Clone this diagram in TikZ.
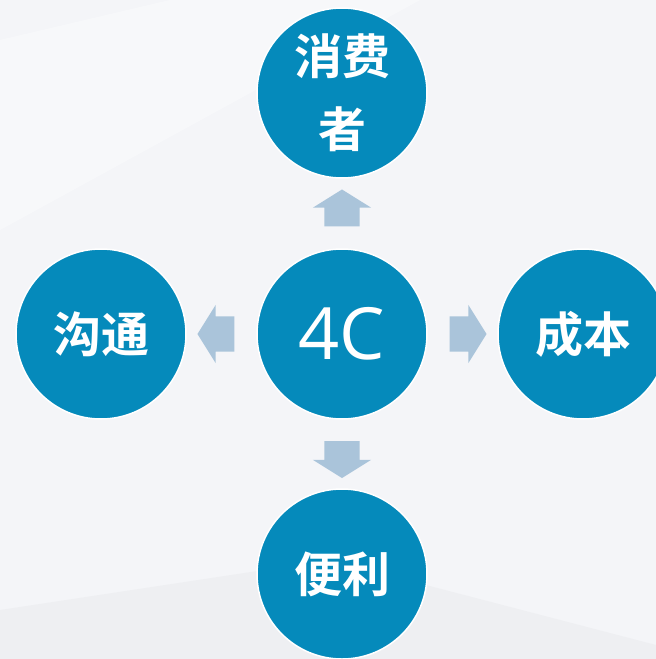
\documentclass[tikz,border=0pt]{standalone}
\usepackage{fontspec}
\newfontfamily\cjk{Noto Sans CJK SC Bold}
\newfontfamily\latinfont{Open Sans}
\usepackage{xcolor}
\usetikzlibrary{shapes.arrows,calc}
\definecolor{ballblue}{RGB}{5,138,187}
\definecolor{arrowblue}{RGB}{170,196,218}
\definecolor{bggray}{RGB}{244,245,248}
\definecolor{bgdark}{RGB}{238,239,242}

\begin{document}
\begin{tikzpicture}[x = 1pt, y = -1pt,
    ball/.style = {circle, fill = ballblue, draw = white, line width = 1.5pt, minimum size = 170pt, inner sep = 0pt, text = white, align = center},
    cjklabel/.style = {font = \cjk\fontsize{48}{73}\selectfont},
    blockarrow/.style = {single arrow, fill = arrowblue, minimum height = 37pt, inner xsep = 0pt, inner ysep = 17.5pt, single arrow head extend = 11.5pt, single arrow tip angle = 116}]
    \clip (0,0) rectangle (656,659);
    % background
    \fill[bggray] (0,0) rectangle (656,659);
    \fill[white, opacity = .35] (0,40) -- (170,0) -- (420,0) -- (0,230) -- cycle;
    \fill[bgdark] (0,659) -- (0,610) -- (330,560) -- (656,645) -- (656,659) -- cycle;
    \node[ball] (core) at (342,334) {\latinfont\fontsize{72}{72}\selectfont 4C};
    \node[ball, cjklabel] (consumer) at (342,93) {消费\\者};
    \node[ball, cjklabel] (talk) at (101,334) {沟通};
    \node[ball, cjklabel] (cost) at (583,334) {成本};
    \node[ball, cjklabel] (ease) at (342,574) {便利};
    \node[blockarrow, rotate = 90] (up) at ($(core)!.5!(consumer)$) {};
    \node[blockarrow, rotate = 180] (left) at ($(core)!.5!(talk)$) {};
    \node[blockarrow] (right) at ($(core)!.5!(cost)$) {};
    \node[blockarrow, rotate = 270] (down) at ($(core)!.5!(ease)$) {};
\end{tikzpicture}
\end{document}
